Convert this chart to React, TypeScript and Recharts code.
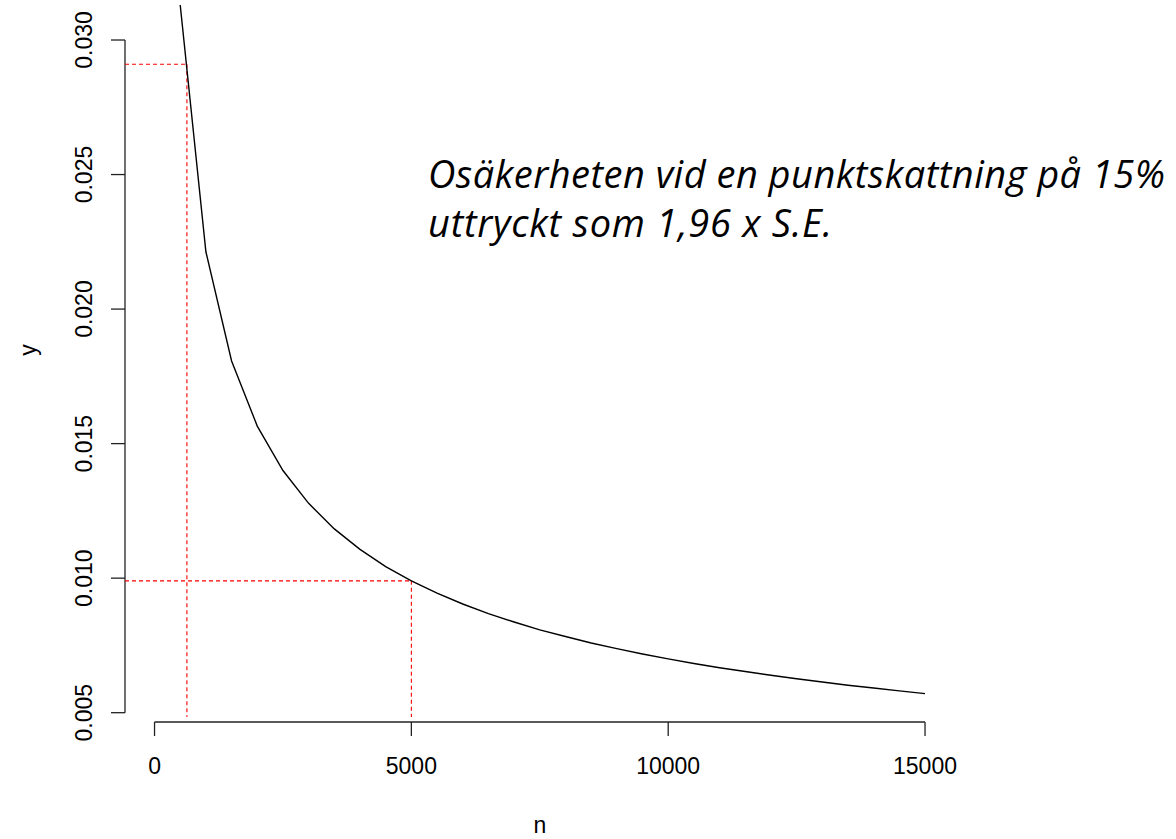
import { LineChart, Line, XAxis, YAxis, ReferenceLine } from "recharts";

const nValues = [
  500, 1000, 1500, 2000, 2500, 3000, 3500, 4000, 4500, 5000,
  5500, 6000, 6500, 7000, 7500, 8000, 8500, 9000, 9500, 10000,
  10500, 11000, 11500, 12000, 12500, 13000, 13500, 14000, 14500, 15000,
];
const seValues = [
  0.0313, 0.02213, 0.01807, 0.01565, 0.014, 0.01278, 0.01183, 0.01107, 0.01043, 0.0099,
  0.00944, 0.00904, 0.00868, 0.00837, 0.00808, 0.00783, 0.00759, 0.00738, 0.00718, 0.007,
  0.00683, 0.00667, 0.00653, 0.00639, 0.00626, 0.00614, 0.00602, 0.00592, 0.00581, 0.00571,
];
const xTicks = [0, 5000, 10000, 15000];
const yTicks = [0.005, 0.01, 0.015, 0.02, 0.025, 0.03];

// red guide lines: n value and the y it reads off
const guideN = [630, 5000];
const guideY = [0.0291, 0.0099];
const guideBottom = 0.00484;

const noteLines = ["Osäkerheten vid en punktskattning på 15%", "uttryckt som 1,96 x S.E."];
const noteWidths = [737, 404];

const X_DOMAIN = [-575, 15564];
const Y_DOMAIN = [0.004654, 0.031487];

const data = nValues.map((n, i) => ({ n, y: seValues[i] }));

const FONT = "'Liberation Sans', Arial, sans-serif";
const AXIS = "#222";

function XTick({ x, payload }: any) {
  return (
    <text x={x} y={774} textAnchor="middle" fontFamily={FONT} fontSize={23} fill="#000">
      {payload.value}
    </text>
  );
}

function YTick({ y, payload }: any) {
  const bx = 92;
  return (
    <text x={bx} y={y} transform={`rotate(-90, ${bx}, ${y})`} textAnchor="middle" fontFamily={FONT} fontSize={23} fill="#000">
      {payload.value.toFixed(3)}
    </text>
  );
}

export default function App() {
  return (
    <div style={{ position: "absolute", left: 0, top: 0, width: 1176, height: 839, background: "#fff" }}>
      <LineChart width={1176} height={839} data={data} margin={{ top: 0, right: 222, left: 0, bottom: 0 }}>
        <XAxis
          dataKey="n"
          type="number"
          domain={X_DOMAIN}
          allowDataOverflow
          ticks={xTicks}
          axisLine={false}
          tickLine={{ stroke: AXIS, strokeWidth: 1.3 }}
          tickSize={14}
          height={117}
          tick={<XTick />}
          label={{
            content: () => (
              <text x={540} y={833} textAnchor="middle" fontFamily={FONT} fontSize={23} fill="#000">n</text>
            ),
          }}
        />
        <YAxis
          type="number"
          domain={Y_DOMAIN}
          allowDataOverflow
          ticks={yTicks}
          axisLine={false}
          tickLine={{ stroke: AXIS, strokeWidth: 1.3 }}
          tickSize={14}
          width={125}
          tick={<YTick />}
          label={{
            content: () => (
              <text x={36} y={350} transform="rotate(-90, 36, 350)" textAnchor="middle" fontFamily={FONT} fontSize={23} fill="#000">y</text>
            ),
          }}
        />
        <ReferenceLine segment={[{ x: X_DOMAIN[0], y: yTicks[0] }, { x: X_DOMAIN[0], y: yTicks[yTicks.length - 1] }]} stroke={AXIS} strokeWidth={1.3} ifOverflow="visible" />
        <ReferenceLine segment={[{ x: xTicks[0], y: Y_DOMAIN[0] }, { x: xTicks[xTicks.length - 1], y: Y_DOMAIN[0] }]} stroke={AXIS} strokeWidth={1.3} ifOverflow="visible" />
        {guideN.map((gn, i) => (
          <ReferenceLine key={"h" + i} segment={[{ x: X_DOMAIN[0], y: guideY[i] }, { x: gn, y: guideY[i] }]} stroke="#ff0000" strokeWidth={1.1} strokeDasharray="4 3" ifOverflow="visible" />
        ))}
        {guideN.map((gn, i) => (
          <ReferenceLine key={"v" + i} segment={[{ x: gn, y: guideY[i] }, { x: gn, y: guideBottom }]} stroke="#ff0000" strokeWidth={1.1} strokeDasharray="4 3" ifOverflow="visible" />
        ))}
        <Line type="linear" dataKey="y" stroke="#000" strokeWidth={1.4} dot={false} activeDot={false} isAnimationActive={false} />
      </LineChart>
      <svg width={1176} height={839} style={{ position: "absolute", left: 0, top: 0, pointerEvents: "none" }}>
        {noteLines.map((t, i) => (
          <text
            key={i}
            x={428}
            y={188 + i * 49}
            textLength={noteWidths[i]}
            lengthAdjust="spacing"
            fontFamily="'Open Sans', Lato, sans-serif"
            fontStyle="italic"
            fontSize={38}
            fill="#000"
          >
            {t}
          </text>
        ))}
      </svg>
    </div>
  );
}
